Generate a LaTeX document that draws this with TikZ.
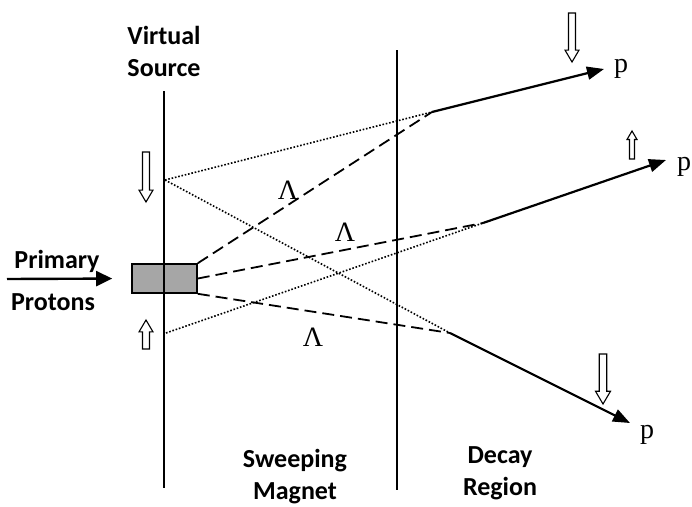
\documentclass[tikz,border=0pt]{standalone}
\usepackage{fontspec}
\setmainfont{Liberation Serif}
\newfontfamily\labelfont{Carlito}
\usetikzlibrary{arrows.meta, positioning}

\tikzset{
  lbl/.style={font=\labelfont\bfseries\fontsize{26}{32}\selectfont, align=center, inner sep=0pt},
  sym/.style={font=\fontsize{28}{30}\selectfont, inner sep=0pt},
  wall/.style={line width=1.3pt},
  lambda/.style={dash pattern=on 12pt off 6pt, line width=1.8pt},
  proton/.style={dash pattern=on 1.6pt off 1.8pt, line width=1.6pt},
  decay/.style={line width=2.2pt, -{Triangle[length=17pt,width=13pt]}},
  % hollow block arrow for the polarisation, pointing along +y (down)
  pics/polarrow/.style 2 args={code={
    \draw[line width=1.1pt, fill=white, line join=miter]
      ({-#2/2},0) -- ({-#2/2},{#1-1.7*#2}) -- ({-#2},{#1-1.7*#2}) -- (0,#1)
      -- ({#2},{#1-1.7*#2}) -- ({#2/2},{#1-1.7*#2}) -- ({#2/2},0) -- cycle;
  }},
}

\begin{document}
\begin{tikzpicture}[x=1pt, y=-1pt]
\useasboundingbox (0,0) rectangle (692,506);

% target and primary beam
\node[draw, line width=1.6pt, fill=black!35, minimum width=65pt, minimum height=29pt, inner sep=0pt] (tgt) at (164.5,278.5) {};
\coordinate (beam) at (7,279);
\draw[line width=2.4pt, -{Triangle[length=16pt,width=15pt]}, shorten >=19pt] (beam) -- (tgt.west);
\node[lbl] (primary) at (57,261) {Primary};
\node[lbl] (protons) at (53,302) {Protons};

% virtual source plane and decay plane
\coordinate (vs top) at (164,91);
\coordinate (vs bot) at (164,488);
\coordinate (dr top) at (397,50);
\coordinate (dr bot) at (397,490);
\draw[wall] (vs top) -- (vs bot);
\draw[wall] (dr top) -- (dr bot);
\node[lbl] (vsrc) at (164,51) {Virtual\\Source};
\node[lbl] (magnet) at (295,477) {Sweeping\\Magnet};
\node[lbl] (region) at (500,473) {Decay\\Region};

% decay points
\coordinate (j1) at (432,112);
\coordinate (j2) at (483,223);
\coordinate (j3) at (450,333);
\coordinate (s1) at (165,180);
\coordinate (s2) at (166,333);

% lambdas
\draw[lambda] (tgt.north east) -- (j1);
\draw[lambda] (tgt.east) -- (j2);
\draw[lambda] (tgt.south east) -- (j3);
\node[sym] (lam1) at (288,190) {Λ};
\node[sym] (lam2) at (345,232) {Λ};
\node[sym] (lam3) at (313,337) {Λ};

% extrapolated proton tracks
\draw[proton] (s1) -- (j1);
\draw[proton] (s1) -- (j3);
\draw[proton] (s2) -- (j2);

% protons
\coordinate (t1) at (604,69);
\coordinate (t2) at (666,160);
\coordinate (t3) at (630,423);
\draw[decay] (j1) -- (t1);
\draw[decay] (j2) -- (t2);
\draw[decay] (j3) -- (t3);
\node[sym, anchor=base west] (p1) at (614,72) {p};
\node[sym, anchor=base west] (p2) at (677,170) {p};
\node[sym, anchor=base west] (p3) at (640,438) {p};

% polarisation
\pic at (146,152) {polarrow={50}{7}};
\pic[rotate=180] at (146,349) {polarrow={29}{7}};
\pic at (572,13) {polarrow={49}{7}};
\pic[rotate=180] at (632,159) {polarrow={28}{5}};
\pic at (603,354) {polarrow={50}{7.5}};
\end{tikzpicture}
\end{document}
